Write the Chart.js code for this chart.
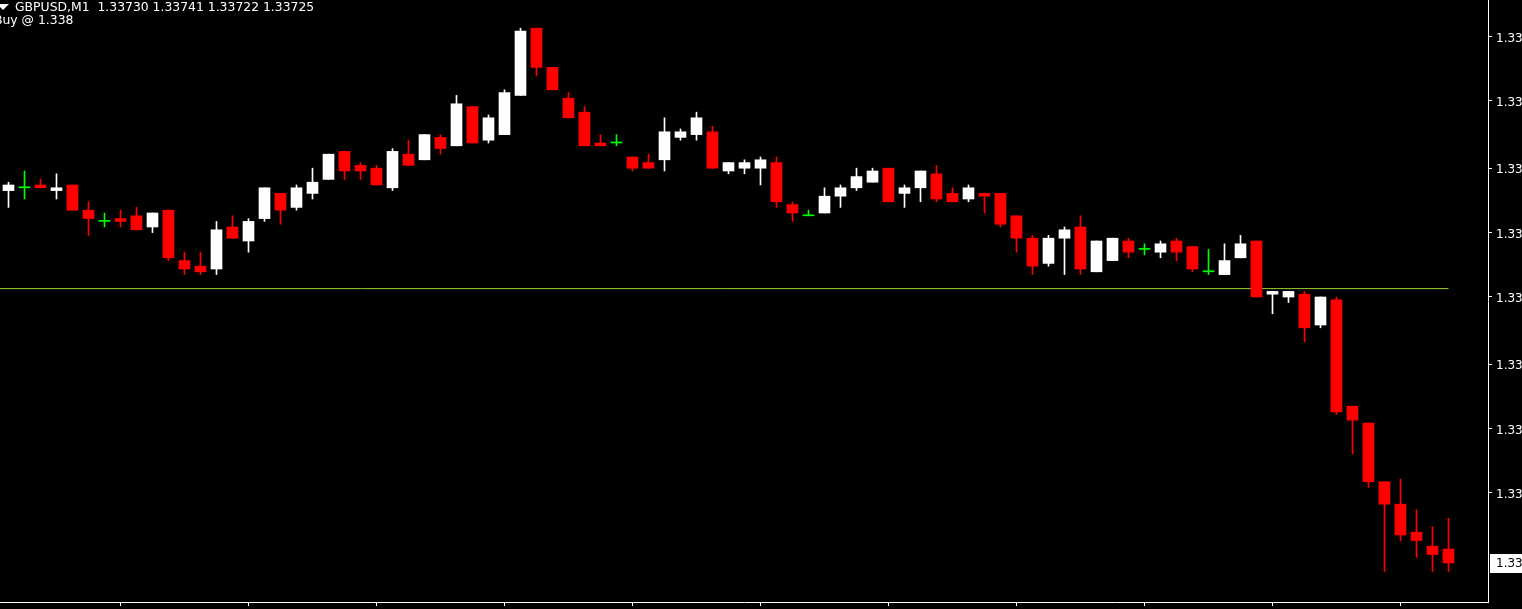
<!DOCTYPE html>
<html><head><meta charset="utf-8">
<script src="https://cdn.jsdelivr.net/npm/chart.js@4/dist/chart.umd.min.js"></script>
<style>html,body{margin:0;padding:0;background:#000;overflow:hidden}#wrap{position:relative;width:1522px;height:609px}</style>
</head><body><div id="wrap"><canvas id="c" width="1522" height="609"></canvas></div>
<script>
const symbolTitle = "GBPUSD,M1";
const opens = [1.33858,1.33859,1.33860,1.33858,1.33860,1.33851,1.33847,1.33848,1.33849,1.33845,
1.33851,1.33833,1.33831,1.33830,1.33845,1.33840,1.33848,1.33857,1.33852,1.33857,
1.33862,1.33872,1.33867,1.33866,1.33859,1.33871,1.33869,1.33877,1.33874,1.33888,
1.33876,1.33878,1.33892,1.33916,1.33902,1.33891,1.33886,1.33875,1.33875,1.33870,
1.33868,1.33869,1.33877,1.33878,1.33879,1.33865,1.33866,1.33866,1.33868,1.33853,
1.33849,1.33850,1.33856,1.33859,1.33861,1.33866,1.33857,1.33859,1.33864,1.33857,
1.33855,1.33857,1.33857,1.33849,1.33841,1.33832,1.33841,1.33845,1.33829,1.33833,
1.33840,1.33837,1.33836,1.33840,1.33838,1.33829,1.33828,1.33834,1.33840,1.33821,
1.33820,1.33821,1.33810,1.33819,1.33781,1.33775,1.33754,1.33746,1.33736,1.33731,
1.33730];
const highs = [1.33861,1.33865,1.33862,1.33864,1.33860,1.33854,1.33850,1.33851,1.33852,1.33850,
1.33851,1.33836,1.33836,1.33847,1.33849,1.33848,1.33859,1.33857,1.33860,1.33866,
1.33871,1.33872,1.33868,1.33867,1.33873,1.33876,1.33878,1.33878,1.33892,1.33888,
1.33885,1.33894,1.33916,1.33916,1.33902,1.33893,1.33888,1.33878,1.33878,1.33870,
1.33871,1.33884,1.33880,1.33886,1.33881,1.33868,1.33869,1.33870,1.33870,1.33854,
1.33851,1.33859,1.33860,1.33866,1.33866,1.33866,1.33860,1.33865,1.33867,1.33859,
1.33860,1.33857,1.33857,1.33849,1.33842,1.33842,1.33845,1.33849,1.33840,1.33841,
1.33841,1.33839,1.33840,1.33841,1.33838,1.33837,1.33839,1.33842,1.33840,1.33822,
1.33822,1.33822,1.33820,1.33820,1.33781,1.33775,1.33754,1.33755,1.33744,1.33738,
1.33741];
const lows = [1.33852,1.33855,1.33859,1.33855,1.33851,1.33842,1.33845,1.33845,1.33844,1.33843,
1.33833,1.33828,1.33828,1.33828,1.33841,1.33836,1.33847,1.33846,1.33851,1.33855,
1.33862,1.33862,1.33862,1.33860,1.33858,1.33867,1.33869,1.33871,1.33874,1.33875,
1.33875,1.33878,1.33892,1.33899,1.33894,1.33884,1.33874,1.33874,1.33874,1.33865,
1.33866,1.33865,1.33876,1.33876,1.33866,1.33864,1.33864,1.33860,1.33852,1.33847,
1.33849,1.33850,1.33852,1.33858,1.33861,1.33854,1.33852,1.33854,1.33854,1.33854,
1.33854,1.33850,1.33845,1.33836,1.33828,1.33831,1.33828,1.33828,1.33829,1.33833,
1.33834,1.33835,1.33834,1.33833,1.33829,1.33828,1.33828,1.33834,1.33820,1.33814,
1.33818,1.33804,1.33809,1.33778,1.33764,1.33752,1.33722,1.33733,1.33727,1.33722,
1.33722];
const closes = [1.33860,1.33859,1.33859,1.33859,1.33851,1.33848,1.33847,1.33847,1.33844,1.33850,
1.33834,1.33830,1.33829,1.33844,1.33841,1.33847,1.33859,1.33851,1.33859,1.33861,
1.33871,1.33865,1.33865,1.33860,1.33872,1.33867,1.33878,1.33873,1.33889,1.33875,
1.33884,1.33893,1.33915,1.33902,1.33894,1.33884,1.33874,1.33874,1.33875,1.33866,
1.33866,1.33879,1.33879,1.33884,1.33866,1.33868,1.33868,1.33869,1.33854,1.33850,
1.33849,1.33856,1.33859,1.33863,1.33865,1.33854,1.33859,1.33865,1.33855,1.33854,
1.33859,1.33856,1.33846,1.33841,1.33831,1.33841,1.33844,1.33830,1.33840,1.33841,
1.33836,1.33837,1.33839,1.33836,1.33830,1.33829,1.33833,1.33839,1.33820,1.33822,
1.33822,1.33809,1.33820,1.33779,1.33776,1.33754,1.33746,1.33735,1.33733,1.33728,
1.33725];
const buyLevel = 1.33823;
const buyLabel = "Buy @ 1.338";
const yTickValues = [1.33913, 1.33890, 1.33866, 1.33843, 1.33820, 1.33796, 1.33773, 1.33750];
const yTickLabels = ["1.33","1.33","1.33","1.33","1.33","1.33","1.33","1.33"];
const xTickIndices = [7, 15, 23, 31, 39, 47, 55, 63, 71, 79, 87];
const currentPriceLabel = "1.33";

const idx = opens.map((_, i) => i);
const last = idx.length - 1;
const pts = v => Math.round(v * 1e5);
const dir = i => Math.sign(pts(closes[i]) - pts(opens[i]));
const colorOf = i => dir(i) > 0 ? '#ffffff' : (dir(i) < 0 ? '#ff0000' : '#00ff00');

const overlay = {
  id: 'overlay',
  afterDraw(chart) {
    const c = chart.ctx;
    c.save();
    c.fillStyle = '#ffffff';
    c.beginPath(); c.moveTo(-3, 4); c.lineTo(9, 4); c.lineTo(3, 10); c.closePath(); c.fill();
    c.font = '12.4px "DejaVu Sans"';
    c.textBaseline = 'alphabetic';
    c.textAlign = 'left';
    const ohlc = [opens[last], highs[last], lows[last], closes[last]].map(v => v.toFixed(5)).join(' ');
    c.fillText(symbolTitle + '  ' + ohlc, 15, 11);
    c.fillText(buyLabel, -6, 24);
    const y = chart.scales.y.getPixelForValue(closes[last]);
    c.fillRect(1490, Math.round(y) - 9, 32, 19);
    c.fillStyle = '#000000';
    c.font = '12px "DejaVu Sans"';
    c.textBaseline = 'middle';
    c.fillText(currentPriceLabel, 1496, Math.round(y) + 1);
    c.restore();
  }
};

new Chart(document.getElementById('c'), {
  type: 'bar',
  data: {
    datasets: [
      { label: 'body', order: 1, data: idx.map(i => ({ x: i, y: [opens[i], closes[i]] })),
        backgroundColor: idx.map(colorOf), barThickness: 11, minBarLength: 1, grouped: false, borderWidth: 0 },
      { label: 'wick', order: 2, data: idx.map(i => ({ x: i, y: [lows[i], highs[i]] })),
        backgroundColor: idx.map(colorOf), barThickness: 1, minBarLength: 1, grouped: false, borderWidth: 0 },
      { type: 'line', label: 'buy', order: 3, data: [{ x: -1, y: buyLevel }, { x: last, y: buyLevel }],
        borderColor: '#9acd32', borderWidth: 1, pointRadius: 0, fill: false }
    ]
  },
  options: {
    responsive: false, animation: false, devicePixelRatio: 1,
    layout: { padding: 0 },
    plugins: { legend: { display: false }, tooltip: { enabled: false } },
    scales: {
      x: { type: 'linear', min: -0.53125, max: 92.46875, position: 'bottom', offset: false,
        afterBuildTicks: s => { s.ticks = xTickIndices.map(v => ({ value: v })); },
        afterFit: s => { s.height = 7; s.paddingLeft = 0; s.paddingRight = 0; s.paddingTop = 0; s.paddingBottom = 0; },
        ticks: { display: false },
        grid: { display: true, offset: false, drawOnChartArea: false, drawTicks: true, tickLength: 4, color: '#ffffff' },
        border: { display: true, color: '#ffffff', width: 1 } },
      y: { type: 'linear', position: 'right', min: 1.3371107, max: 1.3392607,
        afterBuildTicks: s => { s.ticks = yTickValues.map(v => ({ value: v })); },
        afterFit: s => { s.width = 34; s.paddingTop = 0; s.paddingBottom = 0; s.paddingLeft = 0; s.paddingRight = 0; },
        ticks: { color: '#ffffff', padding: 4, labelOffset: 2, font: { family: 'DejaVu Sans', size: 12 },
          callback: (v, i) => yTickLabels[i] },
        grid: { display: true, drawOnChartArea: false, drawTicks: true, tickLength: 4, color: '#ffffff' },
        border: { display: true, color: '#ffffff', width: 1 } }
    }
  },
  plugins: [overlay]
});
</script></body></html>
